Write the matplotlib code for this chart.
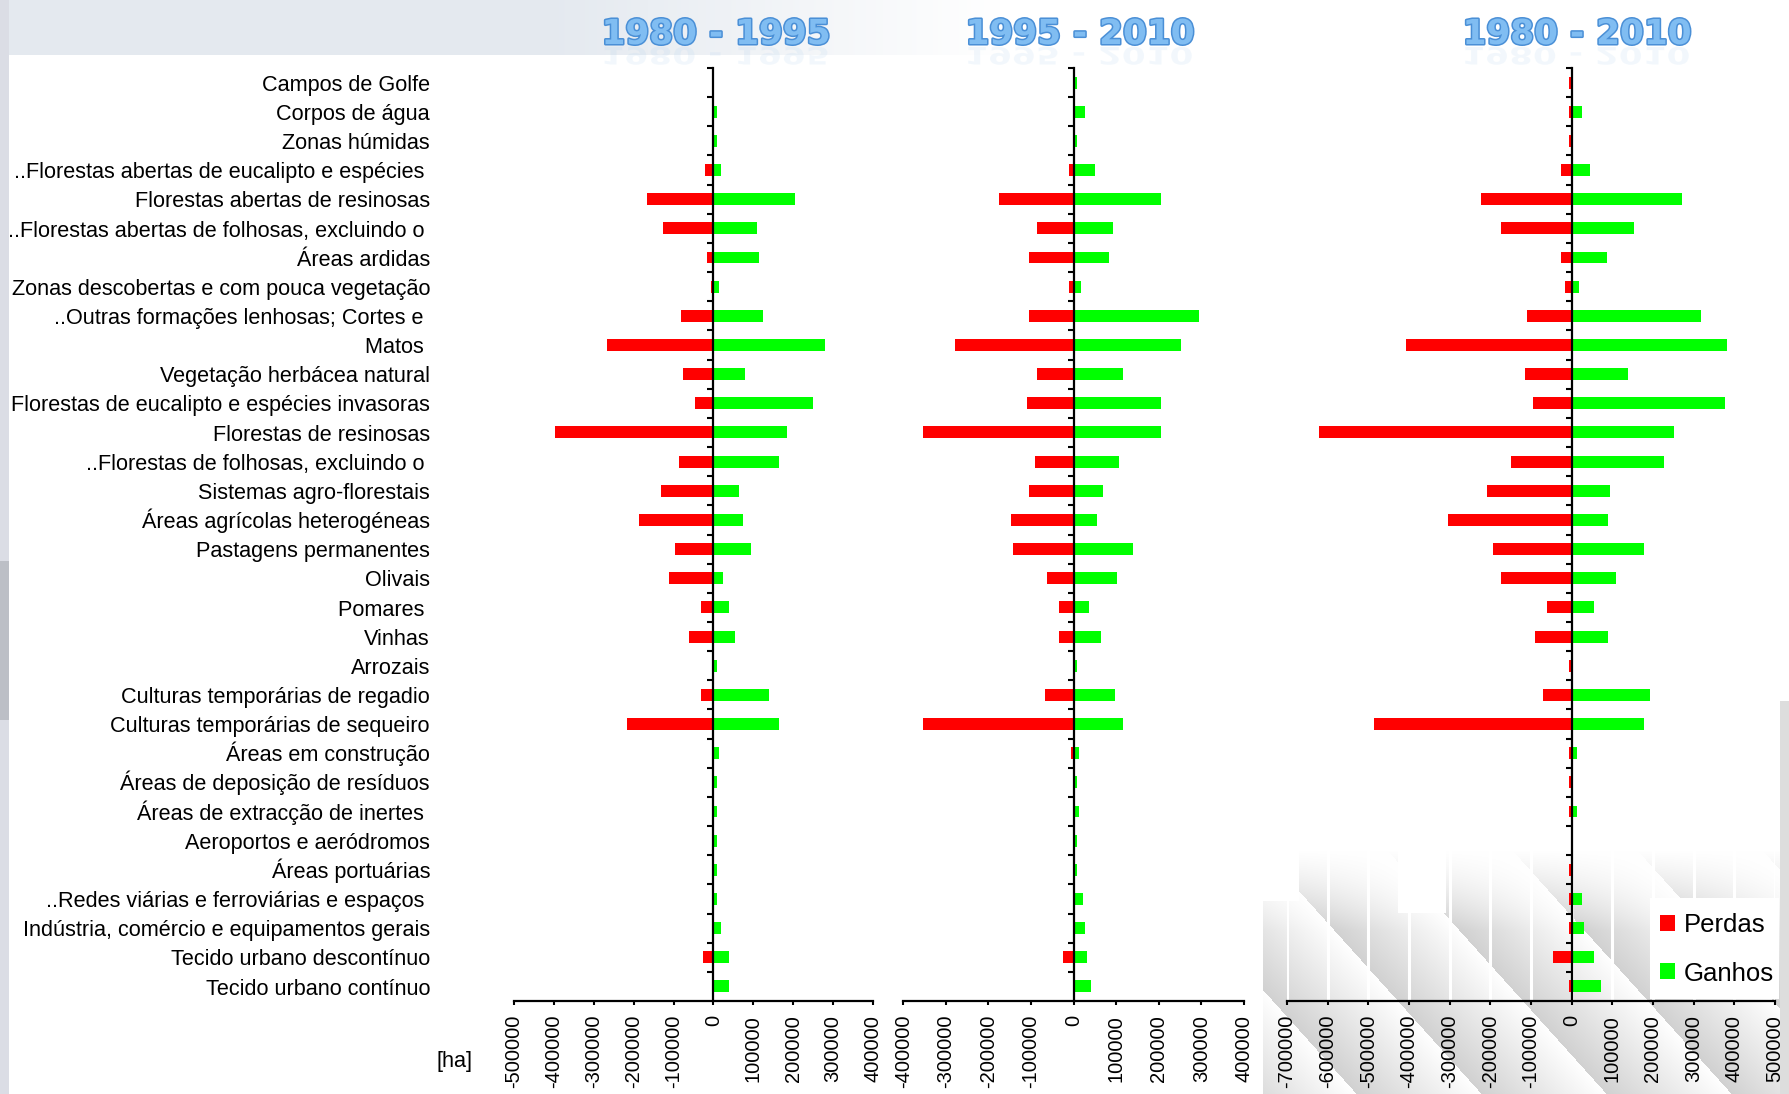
import numpy as np
import matplotlib
matplotlib.use("Agg")
import matplotlib.pyplot as plt
import matplotlib.transforms as mtransforms
import matplotlib.patheffects as pe
from matplotlib.patches import PathPatch
from matplotlib.textpath import TextPath
from matplotlib.font_manager import FontProperties

categories = [
    "Campos de Golfe", "Corpos de água", "Zonas húmidas",
    "..Florestas abertas de eucalipto e espécies ",
    "Florestas abertas de resinosas",
    "..Florestas abertas de folhosas, excluindo o ",
    "Áreas ardidas", "Zonas descobertas e com pouca vegetação",
    "..Outras formações lenhosas; Cortes e ", "Matos ",
    "Vegetação herbácea natural", "Florestas de eucalipto e espécies invasoras",
    "Florestas de resinosas", "..Florestas de folhosas, excluindo o ",
    "Sistemas agro-florestais", "Áreas agrícolas heterogéneas",
    "Pastagens permanentes", "Olivais", "Pomares ", "Vinhas", "Arrozais",
    "Culturas temporárias de regadio", "Culturas temporárias de sequeiro",
    "Áreas em construção", "Áreas de deposição de resíduos",
    "Áreas de extracção de inertes ", "Aeroportos e aeródromos",
    "Áreas portuárias", "..Redes viárias e ferroviárias e espaços ",
    "Indústria, comércio e equipamentos gerais", "Tecido urbano descontínuo",
    "Tecido urbano contínuo",
]

periods = ["1980 - 1995", "1995 - 2010", "1980 - 2010"]

perdas_1980_1995 = [0, 0, 0, -21000, -166000, -126000, -16000, -6000, -81000, -267000,
                    -76000, -46000, -397000, -86000, -131000, -187000, -96000, -111000,
                    -31000, -61000, 0, -31000, -216000, 0, 0, 0, 0, 0, 0, 0, -26000, 0]
ganhos_1980_1995 = [0, 9000, 9000, 19000, 205000, 109000, 114000, 14000, 124000, 280000,
                    79000, 250000, 185000, 165000, 64000, 74000, 94000, 24000, 39000,
                    54000, 9000, 139000, 165000, 14000, 9000, 9000, 9000, 9000, 9000,
                    19000, 39000, 39000]

perdas_1995_2010 = [0, 0, 0, -11000, -175000, -86000, -105000, -11000, -105000, -279000,
                    -86000, -110000, -354000, -91000, -105000, -147000, -143000, -63000,
                    -34000, -34000, 0, -67000, -354000, -6000, 0, 0, 0, 0, 0, 0, -25000, 0]
ganhos_1995_2010 = [8000, 27000, 8000, 50000, 205000, 92000, 83000, 17000, 294000, 252000,
                    116000, 205000, 205000, 106000, 69000, 55000, 139000, 102000, 36000,
                    64000, 8000, 97000, 116000, 13000, 8000, 13000, 8000, 8000, 22000,
                    27000, 31000, 41000]

perdas_1980_2010 = [-7000, -7000, -7000, -27000, -222000, -174000, -27000, -17000, -110000,
                    -407000, -115000, -95000, -622000, -149000, -207000, -305000, -193000,
                    -174000, -61000, -91000, -7000, -70000, -486000, -7000, -7000, -7000,
                    0, -7000, -7000, -7000, -47000, -7000]
ganhos_1980_2010 = [0, 26000, 0, 46000, 271000, 154000, 86000, 17000, 319000, 383000,
                    139000, 378000, 251000, 226000, 95000, 90000, 178000, 109000, 56000,
                    90000, 0, 193000, 178000, 12000, 0, 12000, 0, 0, 26000, 31000, 56000,
                    71000]

xticks_1 = list(range(-500000, 400001, 100000))
xticks_2 = list(range(-400000, 400001, 100000))
xticks_3 = list(range(-700000, 500001, 100000))

W, H = 1789, 1094
fig = plt.figure(figsize=(W / 100, H / 100), dpi=100)
fig.patch.set_facecolor("white")

# ---------------- decorative background ----------------
yy, xx = np.mgrid[0:H, 0:W]
bgarr = np.ones((H, W, 3))
band = yy < 55
fade = np.clip((1000 - xx) / 450.0, 0, 1)
top_col = np.array([0.895, 0.915, 0.94])
bgarr[band] = 1 - (1 - top_col) * fade[band][:, None]
left = xx < 9
lcol = np.where((yy > 560) & (yy < 720), 0.74, 0.86)
bgarr[left] = np.stack([lcol[left], lcol[left] + 0.01, lcol[left] + 0.04], axis=1)
br = (xx > 1262) & (yy > 850)
d = (((xx - 1262) - (yy - 850) * 0.9) % 125) / 125.0
fy = np.clip((yy - 850) / 80.0, 0, 1)
shade = 1 - (0.18 * (1 - d)) * fy
bgarr[br] = np.stack([shade[br]] * 3, axis=1)
for (x0, x1, y0, y1) in [(1263, 1298, 850, 900), (1398, 1445, 850, 912), (1650, 1778, 898, 998)]:
    m = (xx >= x0) & (xx <= x1) & (yy >= y0) & (yy <= y1)
    bgarr[m] = 1.0
rs = (xx > 1779) & (yy > 700)
bgarr[rs] = 0.87

bg = fig.add_axes([0, 0, 1, 1], zorder=-10)
bg.imshow(bgarr, extent=(0, W, H, 0), aspect="auto", interpolation="nearest")
bg.set_xlim(0, W)
bg.set_ylim(H, 0)
bg.axis("off")

# ---------------- axes ----------------
ax_bottom = 1001
ax_top = 68
ypos = np.arange(len(categories))

panels = [
    (514.0, 873.1, xticks_1, perdas_1980_1995, ganhos_1980_1995),
    (903.3, 1244.1, xticks_2, perdas_1995_2010, ganhos_1995_2010),
    (1287.0, 1775.0, xticks_3, perdas_1980_2010, ganhos_1980_2010),
]

axes = []
handles = None
for k, (x0, x1, ticks, perdas, ganhos) in enumerate(panels):
    ax = fig.add_axes([x0 / W, (H - ax_bottom) / H, (x1 - x0) / W, (ax_bottom - ax_top) / H])
    ax.set_facecolor("none")
    b1 = ax.barh(ypos, perdas, height=0.41, color="#FF0000", label="Perdas", zorder=2)
    b2 = ax.barh(ypos, ganhos, height=0.41, color="#00FF00", label="Ganhos", zorder=2)
    if handles is None:
        handles = [b1, b2]
    ax.set_xlim(ticks[0], ticks[-1])
    ax.set_ylim(len(categories) - 0.5, -0.5)
    for s in ["top", "right"]:
        ax.spines[s].set_visible(False)
    ax.spines["left"].set_position(("data", 0))
    ax.spines["left"].set_linewidth(1.6)
    ax.spines["left"].set_zorder(5)
    ax.spines["bottom"].set_linewidth(1.6)
    ax.set_yticks(np.arange(-0.5, len(categories) - 0.5, 1))
    ax.tick_params(axis="y", direction="out", length=4.5, width=1.5, labelleft=False)
    ax.set_xticks(ticks, labels=[str(t) for t in ticks])
    ax.tick_params(axis="x", direction="out", length=3, width=1.5, pad=7,
                   labelsize=14.5, labelrotation=90)
    for lab in ax.get_xticklabels():
        lab.set_family("Liberation Sans")
    if k == 2:
        ax.set_axisbelow(True)
        ax.grid(axis="x", color="white", linewidth=2.2)
    axes.append(ax)

# category labels
trans = mtransforms.blended_transform_factory(fig.transFigure, axes[0].transData)
for i, name in enumerate(categories):
    axes[0].text(430 / W, i + 0.28, name, transform=trans, ha="right", va="baseline",
                 fontsize=15.6, family="Liberation Sans", color="black", clip_on=False)

fig.text(473 / W, 1 - 1061 / H, "[ha]", ha="right", va="center", fontsize=15.6,
         family="Liberation Sans")

# titles with soft reflection
title_x = [716, 1080, 1577]
px = mtransforms.Affine2D().scale(1 / 100.0) + fig.dpi_scale_trans
fp = FontProperties(family="DejaVu Sans", weight="bold")
for cx, t in zip(title_x, periods):
    fig.text(cx / W, 1 - 44 / H, t, ha="center", va="baseline", fontsize=24.7,
             family="DejaVu Sans", weight="bold", color="#80BDF2",
             path_effects=[pe.withStroke(linewidth=2.2, foreground="#4A8FD6")])
    tp = TextPath((0, 0), t, size=34.3, prop=fp)
    ext = tp.get_extents()
    tr = mtransforms.Affine2D().translate(-(ext.x0 + ext.x1) / 2, 0).scale(1, -0.7) \
        .translate(cx, H - 47)
    patch = PathPatch(tr.transform_path(tp), transform=px, facecolor="#A8CDEE",
                      edgecolor="none", alpha=0.14)
    fig.add_artist(patch)

# legend
leg = fig.legend(handles, ["Perdas", "Ganhos"], loc="upper left",
                 bbox_to_anchor=(1655 / W, 1 - 908 / H), frameon=True,
                 prop={"family": "Liberation Sans", "size": 18.5},
                 handlelength=0.58, handleheight=0.58, handletextpad=0.35,
                 labelspacing=0.95, borderpad=0.2, borderaxespad=0)
leg.get_frame().set_facecolor("white")
leg.get_frame().set_edgecolor("none")

fig.savefig("out.png", dpi=100, facecolor="white")
